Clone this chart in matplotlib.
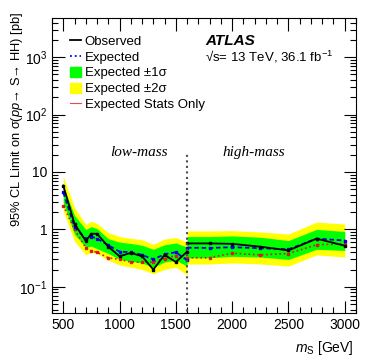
import numpy as np
import matplotlib
matplotlib.use("Agg")
import matplotlib.pyplot as plt
from matplotlib.lines import Line2D
from matplotlib.patches import Patch
from matplotlib.ticker import MultipleLocator, LogLocator, NullFormatter

plt.rcParams['font.family'] = ['Liberation Sans', 'DejaVu Sans']
plt.rcParams['mathtext.fontset'] = 'custom'
plt.rcParams['mathtext.rm'] = 'Liberation Sans'
plt.rcParams['mathtext.it'] = 'Liberation Sans:italic'
plt.rcParams['mathtext.bf'] = 'Liberation Sans:bold'

# Low-mass analysis
low_m = [500, 600, 700, 750, 800, 900, 1000, 1100, 1200, 1300, 1400, 1500, 1600]
low_obs = [5.8, 1.25, 0.63, 0.84, 0.84, 0.50, 0.34, 0.39, 0.34, 0.20, 0.36, 0.27, 0.41]
low_exp = [4.4, 1.11, 0.69, 0.75, 0.69, 0.53, 0.41, 0.40, 0.36, 0.30, 0.37, 0.40, 0.29]
low_stat = [2.6, 1.0, 0.48, 0.42, 0.40, 0.32, 0.30, 0.27, 0.27, 0.27, 0.31, 0.35, 0.31]
low_g_hi = [5.6, 1.75, 1.0, 1.12, 1.03, 0.69, 0.60, 0.57, 0.53, 0.45, 0.54, 0.58, 0.49]
low_g_lo = [2.9, 0.82, 0.49, 0.51, 0.46, 0.38, 0.30, 0.28, 0.26, 0.22, 0.27, 0.29, 0.23]
low_y_hi = [8.3, 2.4, 1.22, 1.39, 1.27, 0.88, 0.75, 0.70, 0.66, 0.55, 0.68, 0.72, 0.60]
low_y_lo = [2.1, 0.62, 0.36, 0.40, 0.38, 0.29, 0.24, 0.22, 0.20, 0.17, 0.20, 0.22, 0.16]

# High-mass analysis
high_m = [1600, 1800, 2000, 2250, 2500, 2750, 3000]
high_obs = [0.57, 0.57, 0.56, 0.50, 0.43, 0.69, 0.52]
high_exp = [0.48, 0.475, 0.49, 0.47, 0.45, 0.69, 0.64]
high_stat = [0.32, 0.32, 0.385, 0.36, 0.38, 0.54, 0.56]
high_g_hi = [0.75, 0.75, 0.77, 0.73, 0.64, 1.0, 0.92]
high_g_lo = [0.32, 0.32, 0.34, 0.33, 0.30, 0.45, 0.43]
high_y_hi = [0.94, 0.94, 0.95, 0.90, 0.83, 1.34, 1.24]
high_y_lo = [0.25, 0.25, 0.26, 0.25, 0.23, 0.36, 0.33]

W, H = 374, 363
fig = plt.figure(figsize=(W / 100, H / 100), dpi=100)
ax = fig.add_axes([52 / W, 1 - 313 / H, (356 - 52) / W, (313 - 18) / H])

for m, obs, exp, stat, ghi, glo, yhi, ylo in [
        (low_m, low_obs, low_exp, low_stat, low_g_hi, low_g_lo, low_y_hi, low_y_lo),
        (high_m, high_obs, high_exp, high_stat, high_g_hi, high_g_lo, high_y_hi, high_y_lo)]:
    ax.fill_between(m, ylo, yhi, color=(1, 1, 0), lw=0, zorder=1)
    ax.fill_between(m, glo, ghi, color=(0, 1, 0), lw=0, zorder=2)
    ax.plot(m, stat, color=(0.85, 0.1, 0.1), ls=':', lw=1.2, marker='s', ms=1.8, zorder=3)
    ax.plot(m, exp, color=(0, 0, 0.9), ls=(0, (2.5, 1.5)), lw=1.3, marker='s', ms=1.8, zorder=4)
    ax.plot(m, obs, color='black', ls='-', lw=1.3, marker='s', ms=1.8, zorder=5)

# boundary between the two analyses
ax.plot([1600, 1600], [0.03, 21], color=(0.3, 0.3, 0.3), ls=':', lw=1.5, zorder=6)
ax.text(1175, 22, "low-mass", family='Liberation Serif', style='italic',
        fontsize=11, ha='center', va='center')
ax.text(2190, 22, "high-mass", family='Liberation Serif', style='italic',
        fontsize=11, ha='center', va='center')

ax.set_yscale('log')
ax.set_xlim(400, 3100)
ax.set_ylim(0.035, 4800)
ax.xaxis.set_major_locator(MultipleLocator(500))
ax.xaxis.set_minor_locator(MultipleLocator(100))
ax.set_yticks([0.1, 1, 10, 100, 1000])
ax.set_yticklabels([r'$10^{-1}$', '1', '10', r'$10^{2}$', r'$10^{3}$'])
ax.yaxis.set_minor_locator(LogLocator(base=10, subs=np.arange(2, 10)))
ax.yaxis.set_minor_formatter(NullFormatter())
ax.tick_params(which='both', direction='in', top=True, right=True, labelsize=10)
ax.tick_params(which='major', length=9, width=0.8)
ax.tick_params(which='minor', length=4.5, width=0.8)
for s in ax.spines.values():
    s.set_linewidth(0.8)

handles = [
    Line2D([], [], color='black', lw=1.3),
    Line2D([], [], color=(0, 0, 0.9), ls=':', lw=1.3),
    Patch(color=(0, 1, 0)),
    Patch(color=(1, 1, 0)),
    Line2D([], [], color=(0.9, 0.3, 0.3), lw=0.8),
]
labels = ["Observed", "Expected", "Expected \u00b11\u03c3",
          "Expected \u00b12\u03c3", "Expected Stats Only"]
ax.legend(handles, labels, loc='upper left', bbox_to_anchor=(0.06, 0.942),
          frameon=False, fontsize=9.5, handlelength=0.8, handleheight=0.8,
          handletextpad=0.3, labelspacing=0.24, borderpad=0, borderaxespad=0)

fig.text(205 / W, 1 - 41 / H, "ATLAS", fontsize=11, weight='bold', style='italic',
         ha='left', va='center')
fig.text(205 / W, 1 - 57 / H, "\u221as= 13 TeV, 36.1 fb$^{-1}$", fontsize=9.5,
         ha='left', va='center')

fig.text(17 / W, 1 - 12 / H, "95% CL Limit on \u03c3($pp$\u2192 S\u2192 HH) [pb]",
         rotation=90, fontsize=9.3, ha='center', va='top')
fig.text(354 / W, 1 - 348 / H, r"$m_{\mathrm{S}}$ [GeV]", fontsize=10,
         ha='right', va='center')

fig.savefig("out.png", dpi=100)
